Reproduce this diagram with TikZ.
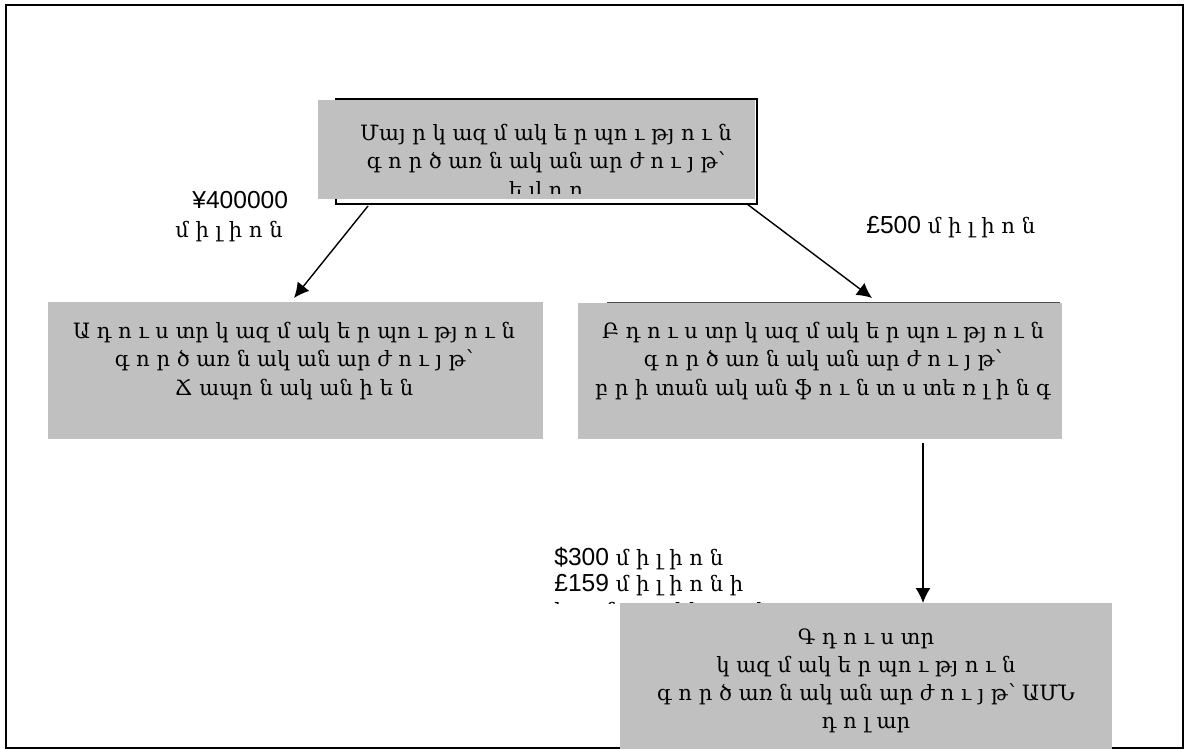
\documentclass[tikz,border=0pt]{standalone}
\usepackage{fontspec}
\setmainfont{DejaVu Serif}
\newfontfamily\latinsf{Liberation Sans}
\newcommand\latnum[1]{{\latinsf\fontsize{14}{16}\selectfont #1}}
\usetikzlibrary{arrows.meta}

\definecolor{boxgray}{RGB}{192,192,192}
\tikzset{
    orgbox/.style={fill=boxgray},
    orgtext/.style={align=center, inner sep=0pt, font=\fontsize{12}{16}\selectfont},
    sumtext/.style={align=left, inner sep=0pt, font=\fontsize{12}{15}\selectfont},
    flow/.style={-{Latex[length=3mm,width=3mm]}, line width=0.8pt},
}

\begin{document}
\begin{tikzpicture}[x=0.02cm, y=-0.02cm]
    \useasboundingbox (0,0) rectangle (1189,749);
    \draw[line width=1pt] (6,5) rectangle (1183,748);

    % parent company
    \draw[line width=1.3pt] (336,99) rectangle (757,204);
    \fill[orgbox] (318,100) rectangle (755,199);
    \begin{scope}
        \clip (318,100) rectangle (755,194);
        \node[orgtext] (parent) at (546,163)
            {Մայ ր կ ազ մ ակ ե ր պո ւ թյ ո ւ ն\\
             գ ո ր ծ առ ն ակ ան  ար ժ ո ւ յ թ՝\\
             ե վ ր ո};
    \end{scope}

    % subsidiaries
    \fill[orgbox] (48,302) rectangle (543,439);
    \node[orgtext] (subA) at (294,361)
        {Ա դ ո ւ ս տր  կ ազ մ ակ ե ր պո ւ թյ ո ւ ն\\
         գ ո ր ծ առ ն ակ ան  ար ժ ո ւ յ թ՝\\
         Ճ ապո ն ակ ան  ի ե ն};

    \fill[orgbox] (578,303) rectangle (1062,439);
    \draw[gray!60!black] (607,302) -- (1060,302);
    \node[orgtext] (subB) at (823,361)
        {Բ դ ո ւ ս տր  կ ազ մ ակ ե ր պո ւ թյ ո ւ ն\\
         գ ո ր ծ առ ն ակ ան  ար ժ ո ւ յ թ՝\\
         բ ր ի տան ակ ան  ֆ ո ւ ն տ ս տե ռ լ ի ն գ};

    % amounts
    \node[sumtext, anchor=west] (yen) at (192,200) {\latnum{¥400000}};
    \node[sumtext, anchor=west] (yenunit) at (175,232) {մ ի լ ի ո ն};
    \node[sumtext, anchor=west] (gbp) at (866,227) {\latnum{£500} մ ի լ ի ո ն};
    \begin{scope}
        \clip (540,520) rectangle (760,603);
        \node[sumtext, anchor=north west] (usd) at (554,547)
            {\latnum{\$300} մ ի լ ի ո ն\\
             \latnum{£159} մ ի լ ի ո ն ի\\
             հ ա մ ա ր ժ ե ք ո վ )};
    \end{scope}

    \fill[orgbox] (620,603) rectangle (1112,749);
    \node[orgtext] (subC) at (866,681)
        {Գ դ ո ւ ս տր\\
         կ ազ մ ակ ե ր պո ւ թյ ո ւ ն\\
         գ ո ր ծ առ ն ակ ան  ար ժ ո ւ յ թ՝ ԱՄՆ\\
         դ ո լ ար};

    % ownership arrows
    \coordinate (p1) at (368,206);
    \coordinate (a1) at (294,298);
    \coordinate (p2) at (747,204);
    \coordinate (b1) at (872,298);
    \coordinate (b2) at (923,443);
    \coordinate (c1) at (923,603);
    \draw[flow] (p1) -- (a1);
    \draw[flow] (p2) -- (b1);
    \draw[flow] (b2) -- (c1);
\end{tikzpicture}
\end{document}
